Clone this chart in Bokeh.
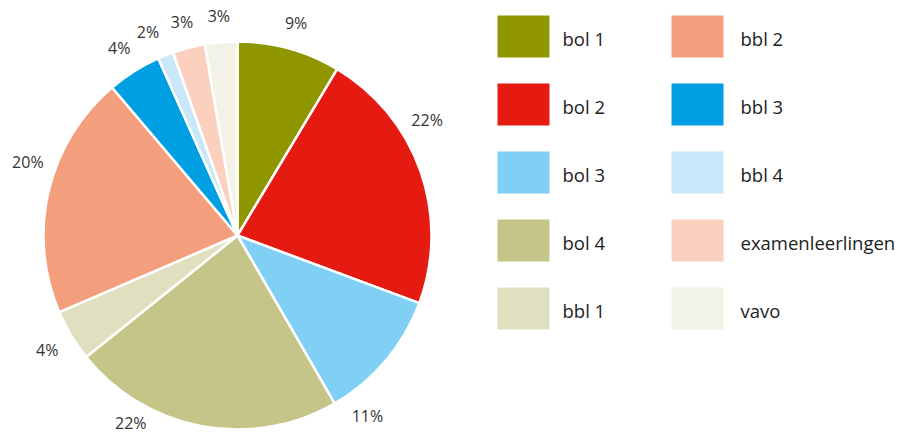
import math
from bokeh.plotting import figure
from bokeh.models import Range1d, ColumnDataSource
from bokeh.core.properties import value
from bokeh.embed import file_html
from bokeh.resources import INLINE

# ---- data ----
categories = ["bol 1", "bol 2", "bol 3", "bol 4", "bbl 1",
              "bbl 2", "bbl 3", "bbl 4", "examenleerlingen", "vavo"]
shares = [8.6, 22.1, 11.0, 22.6, 4.3, 20.3, 4.5, 1.3, 2.7, 2.7]
share_labels = ["9%", "22%", "11%", "22%", "4%", "20%", "4%", "2%", "3%", "3%"]
colors = ["#8f9600", "#e51b12", "#80d0f5", "#c5c589", "#e0e0c1",
          "#f39f7e", "#009fe3", "#c8e8fa", "#fbd0bf", "#f2f3e6"]

# ---- layout ----
W, H = 898, 436
FONT = "Open Sans"
cx, cy, R = 237, 201, 194
label_r = [220, 222, 222, 216, 222, 222, 222, 222, 221, 220]
label_shift_deg = [0, 12, -14, -19, 0, -6, 0, 2, 0, 0]

p = figure(width=W, height=H, output_backend="svg", toolbar_location=None,
           x_range=Range1d(0, W), y_range=Range1d(0, H), min_border=0)
p.axis.visible = False
p.grid.visible = False
p.outline_line_color = None
p.background_fill_color = "white"

total = sum(shares)
starts, ends, lx, ly = [], [], [], []
cum = 0.0
for i, s in enumerate(shares):
    a0 = math.pi / 2 - 2 * math.pi * cum / total
    cum += s
    a1 = math.pi / 2 - 2 * math.pi * cum / total
    starts.append(a1)
    ends.append(a0)
    mid = (a0 + a1) / 2 + math.radians(label_shift_deg[i])
    lx.append(cx + label_r[i] * math.cos(mid))
    ly.append(cy + label_r[i] * math.sin(mid))

src = ColumnDataSource(dict(start=starts, end=ends, color=colors,
                            lx=lx, ly=ly, lab=share_labels))
p.wedge(x=cx, y=cy, radius=R, start_angle="start", end_angle="end",
        fill_color="color", line_color="white", line_width=2.5, source=src)
p.text(x="lx", y="ly", text="lab", source=src, text_font=value(FONT),
       text_font_size="16px", text_color="#333333", text_align="center",
       text_baseline="middle")

# legend (two columns of five)
col_x = [523, 697]
text_x = [562, 740]
row_y0, row_step = 400, 68
sx, sy, tx, ty = [], [], [], []
for i, c in enumerate(categories):
    col, row = divmod(i, 5)
    sx.append(col_x[col])
    sy.append(row_y0 - row * row_step)
    tx.append(text_x[col])
    ty.append(row_y0 - row * row_step - 2)
lsrc = ColumnDataSource(dict(sx=sx, sy=sy, tx=tx, ty=ty, color=colors, name=categories))
p.rect(x="sx", y="sy", width=52, height=42, fill_color="color", line_color=None, source=lsrc)
p.text(x="tx", y="ty", text="name", source=lsrc, text_font=value(FONT),
       text_font_size="18.5px", text_color="#222222", text_align="left",
       text_baseline="middle")

open("out.html", "w").write(file_html(p, INLINE))
